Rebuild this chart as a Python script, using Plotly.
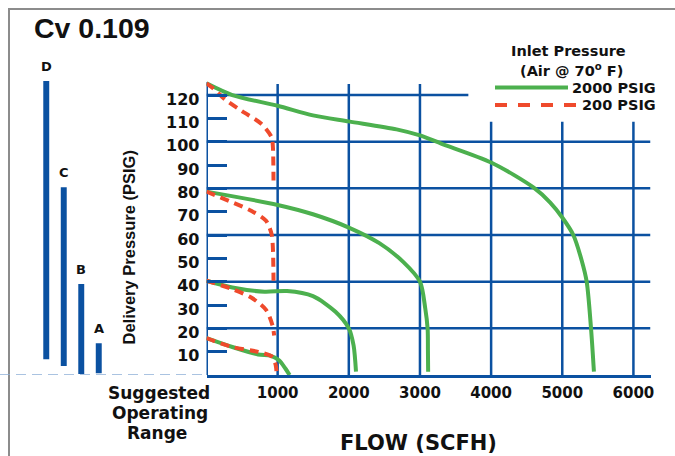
import plotly.graph_objects as go

# ---------------- data ----------------
y_tick_vals = [10, 20, 30, 40, 50, 60, 70, 80, 90, 100, 110, 120]
y_grid_vals = [20, 40, 60, 80, 100, 120]
x_tick_vals = [1000, 2000, 3000, 4000, 5000, 6000]
x_tick_text = ["1000", "2000", "3000", "4000", "5000", "6000"]

# 2000 PSIG inlet (solid green)
flow_2000_a = [0, 363, 1000, 1496, 2000, 2671, 3000, 3306, 4000, 4599, 4831, 5000, 5155, 5273, 5343, 5404, 5445]
psig_2000_a = [125, 120, 115.4, 111.3, 108.7, 105.3, 102.7, 99.1, 91.1, 80.3, 73.9, 67.5, 60, 49.1, 40, 20, 1.4]
flow_2000_b = [0, 1000, 1496, 2000, 2429, 2768, 3000, 3074, 3108, 3112, 3115]
psig_2000_b = [78.6, 72.9, 68.9, 63.2, 56.5, 48.4, 40, 28.6, 19.7, 10.6, 1.4]
flow_2000_c = [0, 363, 815, 1132, 1496, 1813, 2000, 2067, 2101]
psig_2000_c = [40.4, 37.5, 35.7, 36.0, 33.8, 27.1, 20, 12.7, 1.4]
flow_2000_d = [0, 363, 725, 905, 1019, 1108, 1168]
psig_2000_d = [15.8, 12.0, 8.8, 8.2, 6.3, 2.8, 0]

# 200 PSIG inlet (dashed red)
flow_200_a = [0, 92, 274, 499, 770, 915, 932, 942]
psig_200_a = [125, 122.9, 117.8, 113.1, 107.7, 101.9, 98.3, 81.8]
flow_200_b = [0, 318, 634, 837, 915, 932, 942]
psig_200_b = [78.6, 74.6, 70.3, 66.1, 60.3, 55.0, 40.4]
flow_200_c = [0, 363, 634, 837, 928, 951]
psig_200_c = [40.4, 36.8, 33.1, 27.9, 21.2, 16.9]
flow_200_d = [0, 363, 725, 928, 973, 986]
psig_200_d = [15.8, 12.0, 9.9, 7.7, 4.2, 0]

# Suggested operating ranges
range_names = ["D", "C", "B", "A"]
range_low = [6.7, 3.9, 0.4, 0.7]
range_high = [126.0, 80.5, 39.0, 13.6]

# ---------------- style ----------------
W, H = 675, 456
BLUE = "#0b51a1"
GREEN = "#4cb04e"
RED = "#ef4a2c"
TXT = "#111111"
FRAME = "#8c8c8c"
BOLD = dict(family="DejaVu Sans", weight="bold", color=TXT)

def px_x(p):
    return p / W

def px_y(p):
    return 1 - p / H

X_RANGE = [0, 6240]
Y_RANGE = [0, 127]
Y_PX_PER_UNIT = 2.333
Y_TOP_PX = 375 - Y_RANGE[1] * Y_PX_PER_UNIT

fig = go.Figure()

# empty trace that carries the page-frame axes
fig.add_trace(go.Scatter(x=[None], y=[None], xaxis="x3", yaxis="y3", mode="lines",
                         showlegend=False, hoverinfo="skip"))

green_sets = [(flow_2000_a, psig_2000_a), (flow_2000_b, psig_2000_b),
              (flow_2000_c, psig_2000_c), (flow_2000_d, psig_2000_d)]
red_sets = [(flow_200_a, psig_200_a), (flow_200_b, psig_200_b),
            (flow_200_c, psig_200_c), (flow_200_d, psig_200_d)]

for fx, fy in green_sets:
    fig.add_trace(go.Scatter(x=fx, y=fy, mode="lines", showlegend=False,
                             line=dict(color=GREEN, width=4, shape="spline", smoothing=0.8),
                             hoverinfo="skip", cliponaxis=False))
for fx, fy in red_sets:
    fig.add_trace(go.Scatter(x=fx, y=fy, mode="lines", showlegend=False,
                             line=dict(color=RED, width=4, shape="spline", smoothing=0.8, dash="9px,6px"),
                             hoverinfo="skip", cliponaxis=False))

fig.add_trace(go.Bar(x=range_names, y=[h - l for h, l in zip(range_high, range_low)],
                     base=range_low, xaxis="x2", yaxis="y", width=0.34,
                     marker=dict(color=BLUE, line=dict(width=0)),
                     cliponaxis=False, showlegend=False, hoverinfo="skip"))

shapes = []
# axis line on the left (stops at the top of the curves, not at the range top)
shapes.append(dict(type="line", xref="x", yref="y", x0=0, x1=0, y0=0, y1=125.6,
                   line=dict(color=BLUE, width=3), layer="below"))
# grid lines
for v in x_tick_vals:
    top = 124.7 if v <= 3000 else 108.6
    shapes.append(dict(type="line", xref="x", yref="y", x0=v, x1=v, y0=0, y1=top,
                       line=dict(color=BLUE, width=2.5), layer="below"))
for v in y_grid_vals:
    right = 3680 if v == 120 else X_RANGE[1]
    shapes.append(dict(type="line", xref="x", yref="y", x0=0, x1=right, y0=v, y1=v,
                       line=dict(color=BLUE, width=2.5), layer="below"))
# dashed baseline under the operating-range bars
shapes.append(dict(type="line", xref="paper", yref="y", x0=0, x1=px_x(205), y0=0, y1=0,
                   line=dict(color="#8fb0d8", width=1.5, dash="10px,6px")))
# legend samples
shapes.append(dict(type="line", xref="paper", yref="paper", x0=px_x(495), x1=px_x(568), y0=px_y(87.5), y1=px_y(87.5),
                   line=dict(color=GREEN, width=4)))
shapes.append(dict(type="line", xref="paper", yref="paper", x0=px_x(495), x1=px_x(577), y0=px_y(105), y1=px_y(105),
                   line=dict(color=RED, width=4, dash="12px,11px")))

annotations = [
    dict(text="<b>Cv 0.109</b>", x=px_x(32), y=px_y(28), xanchor="left", yanchor="middle",
         font=dict(family="Liberation Sans", size=28.5, color=TXT)),
    dict(text="Inlet Pressure", x=px_x(568), y=px_y(51.5), xanchor="center", yanchor="middle",
         font=dict(size=14.5, **BOLD)),
    dict(text="(Air @ 70<sup>o</sup> F)", x=px_x(571), y=px_y(70), xanchor="center", yanchor="middle",
         font=dict(size=14.5, **BOLD)),
    dict(text="2000 PSIG", x=px_x(658), y=px_y(87.5), xanchor="right", yanchor="middle",
         font=dict(size=14.5, **BOLD)),
    dict(text="200 PSIG", x=px_x(658), y=px_y(105), xanchor="right", yanchor="middle",
         font=dict(size=14.5, **BOLD)),
    dict(text="Suggested", x=px_x(159), y=px_y(393), xanchor="center", yanchor="middle",
         font=dict(size=17, **BOLD)),
    dict(text="Operating", x=px_x(160), y=px_y(413), xanchor="center", yanchor="middle",
         font=dict(size=17, **BOLD)),
    dict(text="Range", x=px_x(157), y=px_y(433), xanchor="center", yanchor="middle",
         font=dict(size=17, **BOLD)),
    dict(text="FLOW (SCFH)", x=px_x(418), y=px_y(443), xanchor="center", yanchor="middle",
         font=dict(size=21, **BOLD)),
    dict(text="<b>Delivery Pressure (PSIG)</b>", x=px_x(128), y=px_y(247.5), xanchor="center", yanchor="middle",
         textangle=-90, font=dict(family="Liberation Sans", size=16.5, color=TXT)),
]
for a in annotations:
    a.update(xref="paper", yref="paper", showarrow=False)

# range labels above each operating-range bar
for name, top in zip(range_names, range_high):
    annotations.append(dict(text=name, x=name, y=top, xref="x2", yref="y",
                            xanchor="center", yanchor="bottom", yshift=5, showarrow=False,
                            font=dict(size=13, **BOLD)))

frame_axis = dict(showline=True, linecolor=FRAME, linewidth=2, showgrid=False, zeroline=False,
                  showticklabels=False, ticks="", automargin=False, range=[0, 1], fixedrange=True)

fig.update_layout(
    width=W, height=H,
    margin=dict(l=0, r=0, t=0, b=0, pad=0),
    paper_bgcolor="white", plot_bgcolor="rgba(0,0,0,0)",
    shapes=shapes, annotations=annotations,
    showlegend=False,
    xaxis=dict(domain=[px_x(206.5), px_x(650.5)], range=X_RANGE, anchor="y",
               tickmode="array", tickvals=x_tick_vals, ticktext=x_tick_text,
               ticks="", showgrid=False, zeroline=False, automargin=False,
               showline=True, linecolor=BLUE, linewidth=3,
               tickfont=dict(size=15, **BOLD), ticklabelstandoff=2),
    yaxis=dict(domain=[px_y(375), px_y(Y_TOP_PX)], range=Y_RANGE, anchor="x",
               tickmode="array", tickvals=y_tick_vals, ticktext=[str(v) for v in y_tick_vals],
               ticks="inside", ticklen=20, tickwidth=2.5, tickcolor=BLUE,
               showgrid=False, zeroline=False, automargin=False,
               showline=False,
               tickfont=dict(size=16, **BOLD), ticklabelshift=4, ticklabelstandoff=6),
    xaxis2=dict(domain=[px_x(37.5), px_x(107.5)], anchor="y", visible=False,
                type="category", range=[-0.5, 3.5]),
    xaxis3=dict(domain=[px_x(10), 1], anchor="y3", side="top", **frame_axis),
    yaxis3=dict(domain=[0, px_y(10)], anchor="x3", side="left", **frame_axis),
    bargap=0.6,
)

fig.write_html("out.html", config={"displayModeBar": False},
               post_script="document.body.style.margin='0';document.body.style.overflow='hidden';")
